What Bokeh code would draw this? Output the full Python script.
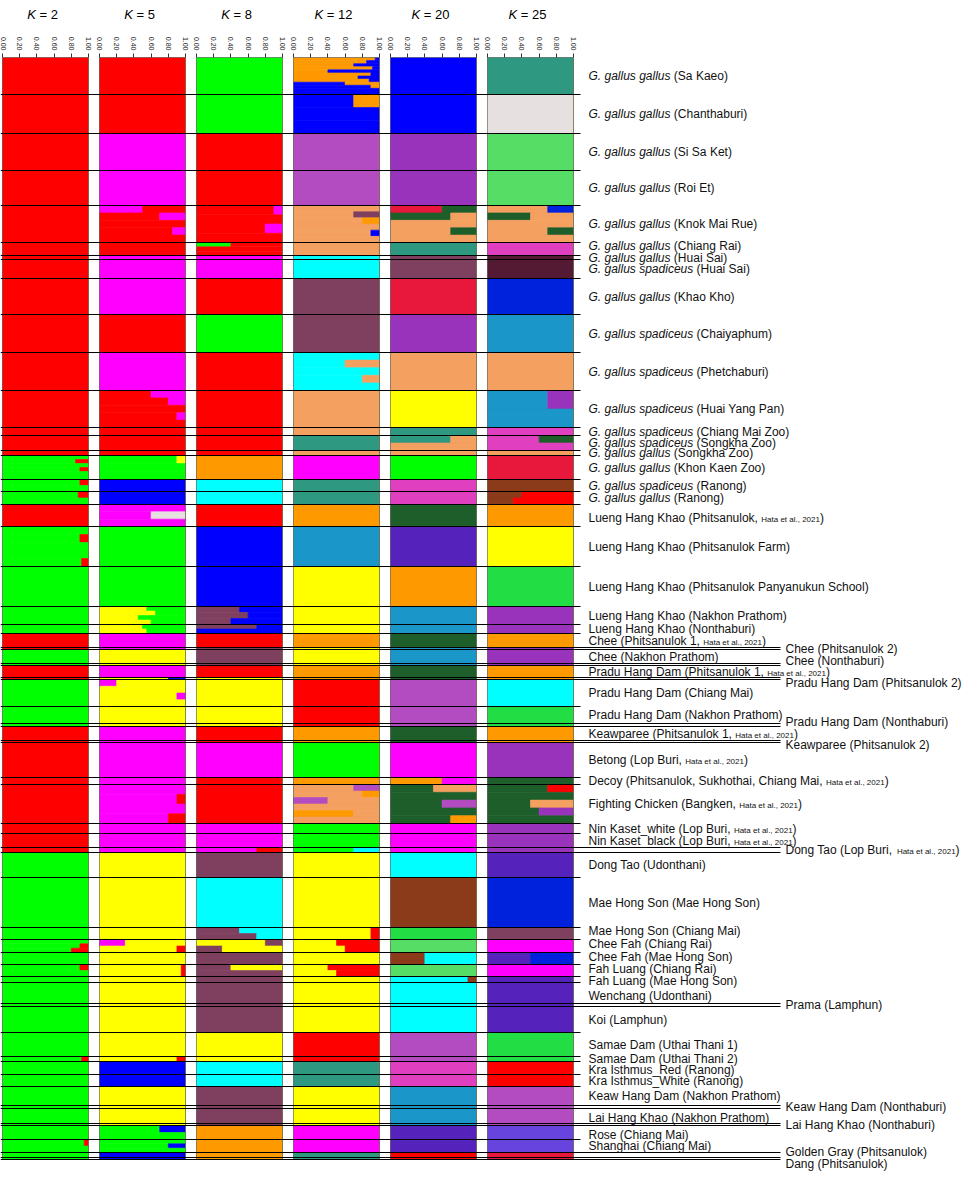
import math
from bokeh.plotting import figure
from bokeh.models import Range1d, FixedTicker, ColumnDataSource
from bokeh.layouts import column
from bokeh.embed import file_html
from bokeh.resources import INLINE
from bokeh.core.properties import value

# ---------------- data ----------------
K_VALUES = [2, 5, 8, 12, 20, 25]

POPULATIONS = [
    "*G. gallus gallus* (Sa Kaeo)",
    "*G. gallus gallus* (Chanthaburi)",
    "*G. gallus gallus* (Si Sa Ket)",
    "*G. gallus gallus* (Roi Et)",
    "*G. gallus gallus* (Knok Mai Rue)",
    "*G. gallus gallus* (Chiang Rai)",
    "*G. gallus gallus* (Huai Sai)",
    "*G. gallus spadiceus* (Huai Sai)",
    "*G. gallus gallus* (Khao Kho)",
    "*G. gallus spadiceus* (Chaiyaphum)",
    "*G. gallus spadiceus* (Phetchaburi)",
    "*G. gallus spadiceus* (Huai Yang Pan)",
    "*G. gallus spadiceus* (Chiang Mai Zoo)",
    "*G. gallus spadiceus* (Songkha Zoo)",
    "*G. gallus gallus* (Songkha Zoo)",
    "*G. gallus gallus* (Khon Kaen Zoo)",
    "*G. gallus spadiceus* (Ranong)",
    "*G. gallus gallus* (Ranong)",
    "Lueng Hang Khao (Phitsanulok, {Hata et al., 2021})",
    "Lueng Hang Khao (Phitsanulok Farm)",
    "Lueng Hang Khao (Phitsanulok Panyanukun School)",
    "Lueng Hang Khao (Nakhon Prathom)",
    "Lueng Hang Khao (Nonthaburi)",
    "Chee (Phitsanulok 1, {Hata et al., 2021})",
    "Chee (Phitsanulok 2)",
    "Chee (Nakhon Prathom)",
    "Chee (Nonthaburi)",
    "Pradu Hang Dam (Phitsanulok 1, {Hata et al., 2021})",
    "Pradu Hang Dam (Phitsanulok 2)",
    "Pradu Hang Dam (Chiang Mai)",
    "Pradu Hang Dam (Nakhon Prathom)",
    "Pradu Hang Dam (Nonthaburi)",
    "Keawparee (Phitsanulok 1, {Hata et al., 2021})",
    "Keawparee (Phitsanulok 2)",
    "Betong (Lop Buri, {Hata et al., 2021})",
    "Decoy (Phitsanulok, Sukhothai, Chiang Mai, {Hata et al., 2021})",
    "Fighting Chicken (Bangken, {Hata et al., 2021})",
    "Nin Kaset_white (Lop Buri, {Hata et al., 2021})",
    "Nin Kaset_black (Lop Buri, {Hata et al., 2021})",
    "Dong Tao (Lop Buri, {Hata et al., 2021})",
    "Dong Tao (Udonthani)",
    "Mae Hong Son (Mae Hong Son)",
    "Mae Hong Son (Chiang Mai)",
    "Chee Fah (Chiang Rai)",
    "Chee Fah (Mae Hong Son)",
    "Fah Luang (Chiang Rai)",
    "Fah Luang (Mae Hong Son)",
    "Wenchang (Udonthani)",
    "Prama (Lamphun)",
    "Koi (Lamphun)",
    "Samae Dam (Uthai Thani 1)",
    "Samae Dam (Uthai Thani 2)",
    "Kra Isthmus_Red (Ranong)",
    "Kra Isthmus_White (Ranong)",
    "Keaw Hang Dam (Nakhon Prathom)",
    "Keaw Hang Dam (Nonthaburi)",
    "Lai Hang Khao (Nakhon Prathom)",
    "Lai Hang Khao (Nonthaburi)",
    "Rose (Chiang Mai)",
    "Shanghai (Chiang Mai)",
    "Golden Gray (Phitsanulok)",
    "Dang (Phitsanulok)",
]

# number of individuals per population
N_IND = [37, 39, 37, 35, 37, 13, 4, 19, 36, 38, 38, 37, 8, 15, 5, 24, 12, 13,
         22, 40, 40, 18, 9, 14, 2, 14, 2, 12, 2, 27, 17, 3, 14, 2, 35, 7, 39,
         10, 14, 5, 25, 50, 12, 13, 12, 12, 6, 21, 3, 26, 24, 5, 13, 12, 19, 3,
         15, 2, 14, 13, 5, 2]

# populations whose label sits in the second (outer) label column
SECOND_COLUMN = [24, 26, 28, 31, 33, 39, 48, 55, 57, 60, 61]

# cluster membership per population: "|" separates groups of individuals (top to bottom),
# "2*" weights a group, first letter = main cluster, "X.3" = cluster X with share 0.3
K2 = ["R", "R", "R", "R", "R", "R", "R", "R", "R", "R", "R", "R", "R", "R", "R",
      "G|G R.15|G|G R.1|2*G", "G R.1|G", "G R.12|G", "R",
      "G|G R.1|2*G|G R.08", "G", "G", "G",
      "R", "R", "G", "G", "R", "R", "G", "G", "G", "R", "R", "R", "R", "R", "R", "R", "R",
      "G", "G", "G", "G|G R.1|G R.2", "G", "G R.1|G", "G", "G", "G", "G", "G", "G R.08",
      "G", "G", "G", "G", "G", "G", "G", "G R.05|G", "G", "G"]

K5 = ["R", "R", "M", "M", "M R.5|R M.3|R|R M.15|R", "R", "M", "M", "M", "R", "M",
      "R M.4|R M.2|R|R M.1|R", "R", "R", "R",
      "G Y.1|G|G", "B", "B", "M|M A.4|M", "G", "G",
      "Y G.45|Y G.35|Y G.55|Y G.4", "Y G.5|Y G.45",
      "M", "M", "Y", "Y", "M", "Y B.2", "M Y.8|Y|Y M.1|Y", "Y", "Y", "M", "M", "M", "M",
      "M|M R.1|M|M R.2", "M", "M", "M",
      "Y", "Y", "Y", "M Y.7|Y R.1", "Y", "Y R.05", "Y", "Y", "Y", "Y", "Y", "Y R.1",
      "B", "B", "Y", "Y", "Y", "Y", "G B.3|G", "G|G B.2|G", "B", "B"]

K8 = ["G", "G", "R", "R", "R M.1|R|R M.2|R", "G R.6|R|R", "M", "M", "R", "G", "R", "R", "R", "R", "R",
      "O", "C", "C", "R", "B", "B", "W B.5|W B.4|W B.6", "W B.3|B",
      "R", "W", "W", "W", "R", "Y", "Y", "Y", "Y", "R", "R", "M", "R", "R", "M", "M", "M R.3",
      "W", "C", "W C.5|W C.3", "Y W.2|W Y.7", "W", "W Y.6|W", "W", "W", "W", "W", "Y", "Y",
      "C", "C", "W", "W", "W", "W", "O", "O", "O", "O"]

K12 = ["O B.05|O B.15|O B.3|O B.08|O B.6|O B.1|O B.25|O B.12|B O.4|B O.1|2*B", "B O.3|B|B", "P", "P",
       "S|S W.3|S O.2|S|S B.1|S", "S", "C", "C", "W", "W", "C|C S.4|C|C S.2|C", "S", "S", "T", "S",
       "M", "T", "T", "O", "L", "Y", "Y", "Y",
       "O", "Y", "Y", "Y", "O", "O", "R", "R", "R", "O", "O", "G", "O",
       "S P.3|S O.2|P S.6|S|O S.3|S", "G", "G", "G C.3",
       "Y", "Y", "Y R.1", "Y R.5|Y R.4", "Y", "Y R.6|Y R.5", "Y", "Y", "Y", "Y", "R", "R",
       "T", "T", "Y", "Y", "Y", "Y", "M", "M", "T", "T"]

K20 = ["B", "B", "U", "U", "X D.4|D S.3|S|S D.3|S", "T", "W", "W", "X", "U", "S", "Y", "T",
       "T S.3|S", "S",
       "G", "K", "K", "D", "V", "O", "L", "L",
       "D", "L", "L", "L", "D", "D", "P", "P", "P", "D", "D", "M", "O M.4",
       "D S.5|D|D P.4|D|D O.3", "M", "M", "M",
       "C", "N", "F", "E", "N C.6", "E", "C N.1", "C", "C", "C", "P", "P", "K", "K",
       "L", "L", "L", "L", "V", "V", "R", "R"]

K25 = ["T", "A", "E", "E", "S Q.3|D S.5|S|S D.3|S", "K", "Z", "Z", "Q", "L", "S", "L U.3|L", "K",
       "K D.4|K", "S",
       "X", "N", "N R.6|N R.7", "O", "Y", "F", "U", "U",
       "O", "U", "U", "U", "O", "O", "C", "F", "F", "O", "O", "U", "D",
       "D R.3|D|D S.5|D U.4|D", "U", "U", "U",
       "V", "Q", "W", "M", "V Q.5", "M", "V", "V", "V", "V", "F", "F", "R", "R",
       "P", "P", "P", "P", "I", "I", "X", "X"]

PANELS = [K2, K5, K8, K12, K20, K25]

PALETTE = {
    "R": "#FF0000", "G": "#00FF00", "M": "#FF00FF", "B": "#0000FF", "Y": "#FFFF00",
    "C": "#00FFFF", "O": "#FF9900", "W": "#7F3F5F", "T": "#2E9980", "P": "#B24CC0",
    "S": "#F4A060", "L": "#1A96C8", "U": "#9933BB", "X": "#E8183C", "D": "#1E5E2A",
    "K": "#E040C0", "N": "#8B3A1A", "V": "#5522BB", "E": "#55DD66", "F": "#22DD44",
    "A": "#E6E0E0", "Z": "#551A33", "Q": "#0022DD", "I": "#6644DD",
}

# ---------------- layout helpers ----------------
LABEL_NUDGE = {5: -3, 18: 2, 26: -4, 28: 4, 31: -3, 33: 3, 42: -3, 43: -2.5, 44: -2,
               45: -2, 46: 1, 47: 2.5, 52: 1.5, 56: 1.5, 58: 2, 60: -3.5, 61: 5}

HELV = {' ': 278, '!': 278, '(': 333, ')': 333, ',': 278, '-': 333, '.': 278, '_': 556,
        '=': 584, ':': 278, '/': 278}
for ch in "0123456789":
    HELV[ch] = 556
HELV.update(dict(zip("ABCDEFGHIJKLMNOPQRSTUVWXYZ",
                     [667, 667, 722, 722, 667, 611, 778, 722, 278, 500, 667, 556, 833, 722,
                      778, 667, 778, 722, 667, 611, 722, 667, 944, 667, 667, 611])))
HELV.update(dict(zip("abcdefghijklmnopqrstuvwxyz",
                     [556, 556, 500, 556, 556, 278, 556, 556, 222, 222, 500, 222, 833, 556,
                      556, 556, 556, 333, 500, 278, 556, 500, 722, 500, 500, 500])))


def text_width(s, size):
    return sum(HELV.get(c, 556) for c in s) * size / 1000.0


def parse_entry(s):
    blocks = []
    for b in s.split("|"):
        b = b.strip()
        w = 1.0
        if "*" in b:
            ws, b = b.split("*")
            w = float(ws)
        toks = b.split()
        extras = [(t[0], float(t[1:])) for t in toks[1:]]
        blocks.append((w, toks[0], extras))
    return blocks


def parse_label(s):
    segs, cur, italic, small = [], "", False, False
    for ch in s:
        if ch in "*{}":
            if cur:
                segs.append((cur, italic, small))
            cur = ""
            if ch == "*":
                italic = not italic
            elif ch == "{":
                small = True
            else:
                small = False
        else:
            cur += ch
    if cur:
        segs.append((cur, italic, small))
    return segs


PX = 86.0            # pixels per unit of membership
WIDTH = 977
HEAD_H = 28
MAIN_H = 1177 - HEAD_H
TOP_BORDER = 29
STEP = 97.0 / PX     # panel spacing
X0 = -2.0 / PX
X1 = X0 + WIDTH / PX
TOTAL = sum(N_IND)
Y_END = MAIN_H - TOP_BORDER   # frame spans to the bottom of the window (1 px per individual)
cum = [0]
for n in N_IND:
    cum.append(cum[-1] + n)

FONT = value("Liberation Sans")

# ---------------- main figure ----------------
xr = Range1d(X0, X1)
p = figure(width=WIDTH, height=MAIN_H, x_range=xr, y_range=Range1d(Y_END, 0),
           output_backend="svg", toolbar_location=None, title=None,
           x_axis_location="above", y_axis_location=None,
           min_border_top=TOP_BORDER, min_border_bottom=0,
           min_border_left=0, min_border_right=0)
p.outline_line_color = None
p.xgrid.visible = False
p.ygrid.visible = False
p.background_fill_color = "white"
p.border_fill_color = "white"

quads = dict(left=[], right=[], top=[], bottom=[], color=[])
for pi, entries in enumerate(PANELS):
    off = pi * STEP
    for j, entry in enumerate(entries):
        blocks = parse_entry(entry)
        tw = sum(b[0] for b in blocks)
        y = cum[j]
        for w, mc, extras in blocks:
            h = N_IND[j] * w / tw
            segs = [(mc, 1.0 - sum(e[1] for e in extras))] + extras
            x = 0.0
            for c, share in segs:
                quads["left"].append(off + x)
                quads["right"].append(off + x + share)
                quads["top"].append(y)
                quads["bottom"].append(y + h)
                quads["color"].append(PALETTE[c])
                x += share
            y += h
p.quad(left="left", right="right", top="top", bottom="bottom", fill_color="color",
       line_color="color", line_width=0.6, source=ColumnDataSource(quads))

# panel frames
n_p = len(K_VALUES)
px0 = [i * STEP for i in range(n_p)]
p.segment(x0=px0, y0=[0] * n_p, x1=[v + 1 for v in px0], y1=[0] * n_p, line_color="#333333", line_width=1)
p.segment(x0=[v + 1 for v in px0], y0=[0] * n_p, x1=[v + 1 for v in px0], y1=[TOTAL] * n_p,
          line_color="#6b6b4a", line_width=0.8)
p.segment(x0=px0, y0=[0] * n_p, x1=px0, y1=[TOTAL] * n_p, line_color="#555555", line_width=0.6)

# population separators
short_end = X0 + 580 / PX
long_end = X0 + 780 / PX
sx0, sx1, sy = [], [], []
for k in range(1, len(cum)):
    above = k - 1
    below = k if k < len(N_IND) else None
    is_long = above in SECOND_COLUMN or (below is not None and below in SECOND_COLUMN)
    sx0.append(X0)
    sx1.append(long_end if is_long else short_end)
    sy.append(cum[k])
p.segment(x0=sx0, y0=sy, x1=sx1, y1=sy, line_color="black", line_width=1.2)

# labels
lab = dict(x=[], y=[], text=[], style=[], size=[])
for j, name in enumerate(POPULATIONS):
    base_px = 785 if j in SECOND_COLUMN else 588
    yc = (cum[j] + cum[j + 1]) / 2.0 + LABEL_NUDGE.get(j, 0)
    xpx = base_px
    for txt, it, sm in parse_label(name):
        size = 8 if sm else 12
        lead = len(txt) - len(txt.lstrip(" "))
        lab["x"].append(X0 + (xpx + text_width(" " * lead, size)) / PX)
        lab["y"].append(yc + (1.6 if sm else 0.0))
        lab["text"].append(txt.strip(" "))
        lab["style"].append("italic" if it else "normal")
        lab["size"].append(f"{size}px")
        xpx += text_width(txt, size)
p.text(x="x", y="y", text="text", text_font_style="style", text_font_size="size",
       text_font=FONT, text_baseline="middle", text_align="left", text_color="#111111",
       source=ColumnDataSource(lab))

# membership axis (0.00 ... 1.00 for each panel)
ticks, overrides = [], {}
for i in range(n_p):
    for v in (0.0, 0.2, 0.4, 0.6, 0.8, 1.0):
        t = round(i * STEP + v, 6)
        ticks.append(t)
        overrides[t] = f"{v:.2f}"
ax = p.xaxis[0]
ax.ticker = FixedTicker(ticks=ticks, minor_ticks=[])
ax.major_label_overrides = overrides
ax.major_label_orientation = -math.pi / 2
ax.major_label_text_font_size = "7px"
ax.major_label_text_font = "Liberation Sans"
ax.major_label_text_color = "#222222"
ax.major_label_standoff = 3
ax.major_tick_out = 4
ax.major_tick_in = 0
ax.major_tick_line_color = "#333333"
ax.minor_tick_line_color = None
ax.axis_line_color = None

# ---------------- header with K titles ----------------
h = figure(width=WIDTH, height=HEAD_H, x_range=xr, y_range=Range1d(0, 1),
           output_backend="svg", toolbar_location=None, title=None,
           x_axis_location=None, y_axis_location=None,
           min_border=0, min_border_left=0, min_border_right=0, min_border_top=0, min_border_bottom=0)
h.outline_line_color = None
h.xgrid.visible = False
h.ygrid.visible = False
tt = dict(x=[], y=[], text=[], style=[])
for i, k in enumerate(K_VALUES):
    center_px = 2 + 97 * i + 40
    total_w = text_width(f"K = {k}", 13)
    start = center_px - total_w / 2
    tt["x"] += [X0 + start / PX, X0 + (start + text_width("K ", 13)) / PX]
    tt["y"] += [0.5, 0.5]
    tt["text"] += ["K", f"= {k}"]
    tt["style"] += ["italic", "normal"]
h.text(x="x", y="y", text="text", text_font_style="style", text_font_size=value("13px"),
       text_font=FONT, text_baseline="middle", text_align="left", text_color="black",
       source=ColumnDataSource(tt))

layout = column(h, p, spacing=0)
open("out.html", "w").write(file_html(layout, INLINE))
